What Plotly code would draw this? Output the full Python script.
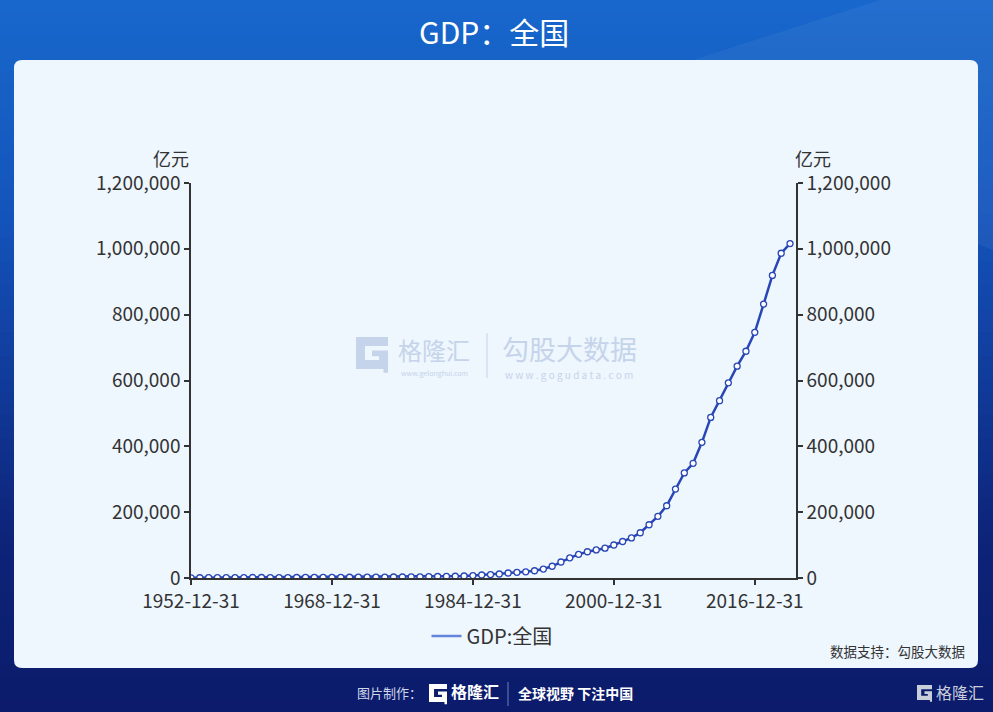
import plotly.graph_objects as go

# GDP, 全国, 亿元 (annual, year-end dates)
years = list(range(1952, 2021))
gdp = [
    679.1, 824.4, 859.8, 911.6, 1030.7, 1071.4, 1312.3, 1447.5, 1470.1, 1232.3,
    1162.2, 1248.3, 1469.9, 1734.0, 1888.7, 1794.2, 1744.1, 1962.2, 2279.7, 2456.9,
    2552.4, 2756.2, 2827.7, 3039.5, 2988.6, 3250.0, 3678.7, 4100.5, 4587.6, 4935.8,
    5373.4, 6020.9, 7278.5, 9098.9, 10376.2, 12174.6, 15180.4, 17179.7, 18872.9, 22005.6,
    27194.5, 35673.2, 48637.5, 61339.9, 71813.6, 79715.0, 85195.5, 90564.4, 100280.1, 110863.1,
    121717.4, 137422.0, 161840.2, 187318.9, 219438.5, 270092.3, 319244.6, 348517.7, 412119.3, 487940.2,
    538580.0, 592963.2, 643563.1, 688858.2, 746395.1, 832035.9, 919281.1, 986515.2, 1015986.2,
]
dates = [f"{y}-12-31" for y in years]

x_ticks = ["1952-12-31", "1968-12-31", "1984-12-31", "2000-12-31", "2016-12-31"]
y_ticks = [0, 200000, 400000, 600000, 800000, 1000000, 1200000]

W, H = 993, 712
FONT = "Noto Sans CJK SC"


def px(x):
    return x / W


def py(y):
    return 1 - y / H


def g_logo(x0, y0, size, color):
    # rough "G" mark of the 格隆汇 logo, top-left at (x0, y0) in pixels
    pts = [(0, 0), (1, 0), (1, 0.28), (0.28, 0.28), (0.28, 0.72), (0.72, 0.72),
           (0.72, 0.6), (0.5, 0.6), (0.5, 0.42), (1, 0.42), (1, 1.12), (0.86, 1.12),
           (0.86, 1), (0, 1)]
    path = "M " + " L ".join(f"{px(x0 + a * size):.5f},{py(y0 + b * size):.5f}" for a, b in pts) + " Z"
    return dict(type="path", xref="paper", yref="paper", path=path,
                fillcolor=color, line=dict(width=0), layer="above")


shapes = []

# background gradient, blue at top to navy at the bottom (strips overlap to avoid seams)
stops = [(0, (24, 104, 204)), (0.3, (20, 84, 188)), (0.75, (13, 36, 122)), (1, (12, 27, 106))]
n = 60
for i in range(n):
    t = (i + 0.5) / n
    for (t0, c0), (t1, c1) in zip(stops[:-1], stops[1:]):
        if t0 <= t <= t1:
            f = (t - t0) / (t1 - t0)
            c = tuple(round(a + (b - a) * f) for a, b in zip(c0, c1))
            break
    shapes.append(dict(type="rect", xref="paper", yref="paper", layer="below",
                       x0=0, x1=1, y0=1 - i / n, y1=max(0, 1 - (i + 1) / n - 0.006),
                       fillcolor=f"rgb{c}", line=dict(width=0)))

# light streak at top right
shapes.append(dict(type="path", xref="paper", yref="paper", layer="below",
                   path=f"M {px(880)},{py(0)} L {px(993)},{py(0)} L {px(993)},{py(250)} L {px(600)},{py(90)} Z",
                   fillcolor="rgba(255,255,255,0.05)", line=dict(width=0)))

# rounded panel
r = 8
x0, x1, y0, y1 = 14, 978, 60, 668
panel = (f"M {px(x0 + r)},{py(y0)} L {px(x1 - r)},{py(y0)} Q {px(x1)},{py(y0)} {px(x1)},{py(y0 + r)} "
         f"L {px(x1)},{py(y1 - r)} Q {px(x1)},{py(y1)} {px(x1 - r)},{py(y1)} "
         f"L {px(x0 + r)},{py(y1)} Q {px(x0)},{py(y1)} {px(x0)},{py(y1 - r)} "
         f"L {px(x0)},{py(y0 + r)} Q {px(x0)},{py(y0)} {px(x0 + r)},{py(y0)} Z")
shapes.append(dict(type="path", xref="paper", yref="paper", layer="below", path=panel,
                   fillcolor="#eef6fe", line=dict(width=0)))

# watermark
wm = "#c5d4ea"
shapes.append(g_logo(356, 337, 32, wm))
shapes.append(dict(type="line", xref="paper", yref="paper", x0=px(487), x1=px(487),
                   y0=py(333), y1=py(378), line=dict(color=wm, width=1), layer="below"))
# footer
shapes.append(g_logo(429, 684, 18, "white"))
shapes.append(dict(type="line", xref="paper", yref="paper", x0=px(508), x1=px(508),
                   y0=py(682), y1=py(706), line=dict(color="#6f7fb8", width=1)))
shapes.append(g_logo(917, 685, 15, "#c9cedb"))

annotations = [
    dict(text="GDP：全国", x=px(494), y=py(31), font=dict(size=30, color="white", family=FONT)),
    dict(text="亿元", x=px(191), y=py(158), xanchor="right", font=dict(size=18, color="#333333", family=FONT)),
    dict(text="亿元", x=px(793), y=py(158), xanchor="left", font=dict(size=18, color="#333333", family=FONT)),
    dict(text="格隆汇", x=px(434), y=py(349), font=dict(size=24, color=wm, family=FONT)),
    dict(text="www.gelonghui.com", x=px(434), y=py(373), font=dict(size=7, color=wm, family=FONT)),
    dict(text="勾股大数据", x=px(569), y=py(348), font=dict(size=27, color=wm, family=FONT)),
    dict(text="w w w . g o g u d a t a . c o m", x=px(569), y=py(374), font=dict(size=10, color=wm, family=FONT)),
    dict(text="数据支持：勾股大数据", x=px(967), y=py(651), xanchor="right",
         font=dict(size=13.5, color="#333333", family=FONT)),
    dict(text="图片制作：", x=px(389), y=py(692), font=dict(size=13, color="#d0d6ea", family=FONT)),
    dict(text="<b>格隆汇</b>", x=px(449), y=py(691), xanchor="left", font=dict(size=16, color="white", family=FONT)),
    dict(text="<b>全球视野 下注中国</b>", x=px(516), y=py(693), xanchor="left",
         font=dict(size=14, color="white", family=FONT)),
    dict(text="格隆汇", x=px(934), y=py(692), xanchor="left", font=dict(size=16, color="#c9cedb", family=FONT)),
]
for a in annotations:
    a.update(xref="paper", yref="paper", showarrow=False, yanchor="middle")

fig = go.Figure()
fig.add_trace(go.Scatter(
    x=dates, y=gdp, mode="lines+markers", name="GDP:全国", showlegend=False,
    line=dict(color="#2846b6", width=2.5),
    marker=dict(symbol="circle", size=6, color="white", line=dict(color="#2846b6", width=1.3)),
    hovertemplate="%{x}<br>%{y:,.1f}<extra></extra>",
))
# legend entry (line only) and a hidden trace to carry the right axis
fig.add_trace(go.Scatter(x=[None], y=[None], mode="lines", name="GDP:全国",
                         line=dict(color="#6585db", width=2.5)))
fig.add_trace(go.Scatter(x=dates, y=gdp, mode="lines", yaxis="y2", showlegend=False,
                         opacity=0, hoverinfo="skip"))

axis_font = dict(size=19, color="#333333", family=FONT)
y_axis = dict(
    range=[0, 1200000], tickvals=y_ticks, tickformat=",d",
    ticks="outside", ticklen=5, tickcolor="#333333", tickwidth=1.5,
    showline=True, linecolor="#333333", linewidth=1.5,
    showgrid=False, zeroline=False, tickfont=axis_font, automargin=False,
)
fig.update_layout(
    width=W, height=H,
    margin=dict(l=0, r=0, t=0, b=0, autoexpand=False),
    paper_bgcolor="#12307f",
    plot_bgcolor="rgba(0,0,0,0)",
    font=dict(family=FONT),
    shapes=shapes,
    annotations=annotations,
    showlegend=True,
    legend=dict(orientation="h", x=px(492), xanchor="center", y=py(636), yanchor="middle",
                font=dict(size=20, color="#333333", family=FONT), bgcolor="rgba(0,0,0,0)"),
    xaxis=dict(
        domain=[px(191), px(796)], type="date",
        range=["1952-12-31", "2021-09-05"],
        tickvals=x_ticks, tickformat="%Y-%m-%d",
        ticks="outside", ticklen=5, tickcolor="#333333", tickwidth=1.5,
        showline=True, linecolor="#333333", linewidth=1.5,
        showgrid=False, zeroline=False, tickfont=axis_font, automargin=False,
    ),
    yaxis=dict(domain=[py(578), py(183)], **y_axis),
    yaxis2=dict(overlaying="y", side="right", **y_axis),
)

fig.write_html("out.html", config={"displayModeBar": False},
               post_script="document.body.style.margin='0';")
